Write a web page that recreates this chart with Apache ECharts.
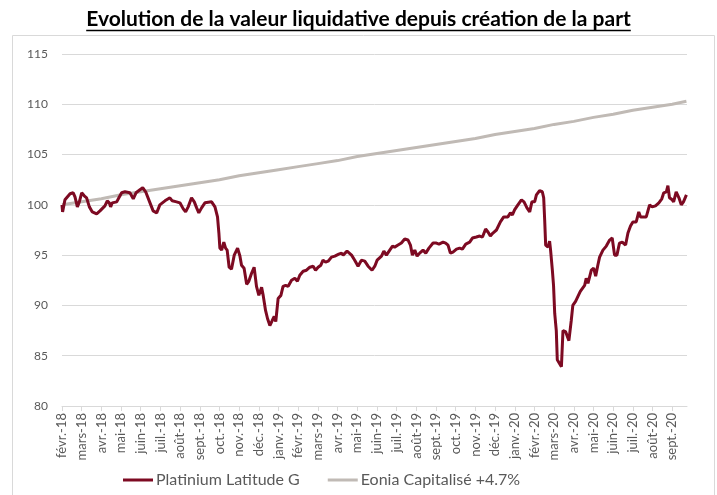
<!DOCTYPE html>
<html>
<head>
<meta charset="utf-8">
<script src="https://cdn.jsdelivr.net/npm/echarts@6/dist/echarts.min.js"></script>
<style>
html, body { margin: 0; padding: 0; background: #fff; }
#chart { width: 717px; height: 495px; }
</style>
</head>
<body>
<div id="chart"></div>
<script>
// month tick labels, one per month starting févr.-18
var monthLabels = [
  'févr.-18', 'mars-18', 'avr.-18', 'mai-18', 'juin-18', 'juil.-18', 'août-18', 'sept.-18',
  'oct.-18', 'nov.-18', 'déc.-18', 'janv.-19', 'févr.-19', 'mars-19', 'avr.-19', 'mai-19',
  'juin-19', 'juil.-19', 'août-19', 'sept.-19', 'oct.-19', 'nov.-19', 'déc.-19', 'janv.-20',
  'févr.-20', 'mars-20', 'avr.-20', 'mai-20', 'juin-20', 'juil.-20', 'août-20', 'sept.-20'
];
var yTicks = [80, 85, 90, 95, 100, 105, 110, 115];

// [months since 1 Feb 2018, value]
var platinium = [
  [0.00, 100.0], [0.03, 99.3], [0.15, 100.5], [0.41, 101.1], [0.57, 101.2], [0.66, 100.8],
  [0.78, 99.8], [0.88, 100.3], [1.00, 101.2], [1.13, 100.9], [1.25, 100.7], [1.39, 99.8],
  [1.54, 99.3], [1.76, 99.1], [1.93, 99.4], [2.18, 99.9], [2.30, 100.4], [2.40, 100.2],
  [2.47, 99.8], [2.55, 100.2], [2.78, 100.3], [2.89, 100.7], [3.03, 101.2], [3.20, 101.3],
  [3.45, 101.2], [3.62, 100.6], [3.76, 101.2], [3.96, 101.5], [4.10, 101.7], [4.25, 101.3],
  [4.47, 100.2], [4.63, 99.4], [4.81, 99.2], [4.97, 100.0], [5.23, 100.4], [5.48, 100.7],
  [5.60, 100.4], [5.82, 100.3], [5.99, 100.2], [6.16, 99.6], [6.28, 99.3], [6.41, 99.8],
  [6.58, 100.7], [6.72, 100.3], [6.84, 99.7], [6.95, 99.2], [7.09, 99.7], [7.26, 100.2],
  [7.35, 100.3], [7.60, 100.3], [7.77, 99.8], [7.90, 98.8], [7.97, 97.2], [8.02, 95.7],
  [8.11, 95.5], [8.22, 96.3], [8.31, 95.7], [8.39, 95.5], [8.49, 93.8], [8.61, 93.6],
  [8.75, 95.0], [8.92, 95.7], [9.04, 94.9], [9.12, 94.0], [9.25, 93.7], [9.38, 92.1],
  [9.49, 92.4], [9.63, 93.2], [9.76, 93.8], [9.88, 91.9], [10.00, 91.0], [10.14, 91.8],
  [10.22, 91.0], [10.34, 89.5], [10.44, 88.7], [10.56, 88.0], [10.68, 88.5], [10.78, 88.9],
  [10.86, 88.4], [10.98, 90.7], [11.12, 91.0], [11.23, 91.9], [11.36, 92.0], [11.49, 91.9],
  [11.66, 92.5], [11.83, 92.7], [11.96, 92.4], [12.08, 93.0], [12.25, 93.4], [12.42, 93.5],
  [12.59, 93.8], [12.76, 93.9], [12.88, 93.5], [13.01, 93.8], [13.15, 94.0], [13.26, 94.5],
  [13.39, 94.3], [13.52, 94.4], [13.69, 94.8], [13.86, 94.9], [14.06, 95.1], [14.20, 95.2],
  [14.28, 95.0], [14.48, 95.4], [14.71, 95.0], [14.87, 94.5], [15.04, 93.9], [15.21, 94.5],
  [15.38, 94.4], [15.55, 93.9], [15.75, 93.5], [15.89, 93.9], [16.01, 94.5], [16.23, 94.9],
  [16.35, 95.4], [16.48, 95.0], [16.65, 95.5], [16.79, 95.9], [16.90, 95.8], [17.07, 96.0],
  [17.24, 96.2], [17.41, 96.6], [17.58, 96.5], [17.70, 96.0], [17.80, 95.0], [17.92, 95.5],
  [18.04, 94.9], [18.17, 95.2], [18.34, 95.5], [18.48, 95.2], [18.64, 95.7], [18.85, 96.2],
  [19.02, 96.2], [19.15, 96.1], [19.36, 96.3], [19.49, 96.2], [19.61, 96.0], [19.73, 95.2],
  [19.86, 95.3], [20.04, 95.6], [20.20, 95.7], [20.34, 95.6], [20.51, 96.1], [20.71, 96.3],
  [20.85, 96.7], [21.05, 96.8], [21.22, 96.9], [21.36, 96.8], [21.52, 97.6], [21.64, 97.3],
  [21.76, 96.9], [21.89, 97.2], [22.07, 97.5], [22.27, 98.3], [22.44, 98.8], [22.65, 98.8],
  [22.78, 99.2], [22.88, 99.0], [22.99, 99.5], [23.16, 100.0], [23.34, 100.5], [23.47, 100.3],
  [23.62, 99.7], [23.76, 99.3], [23.87, 100.3], [24.01, 100.3], [24.10, 101.0], [24.26, 101.4],
  [24.40, 101.3], [24.47, 100.7], [24.52, 98.5], [24.57, 96.0], [24.69, 95.8], [24.77, 96.4],
  [24.82, 95.5], [24.91, 93.5], [24.97, 92.0], [25.03, 89.2], [25.11, 87.5], [25.16, 84.6],
  [25.28, 84.2], [25.37, 83.9], [25.45, 87.5], [25.58, 87.4], [25.65, 87.4], [25.75, 86.5],
  [25.87, 88.5], [25.95, 90.0], [26.09, 90.4], [26.21, 90.9], [26.33, 91.4], [26.43, 91.5],
  [26.55, 92.0], [26.63, 92.7], [26.72, 92.2], [26.89, 93.5], [27.01, 93.7], [27.11, 92.9],
  [27.22, 94.0], [27.31, 94.8], [27.48, 95.5], [27.65, 95.9], [27.82, 96.5], [27.95, 96.7],
  [28.07, 95.0], [28.19, 95.0], [28.32, 96.2], [28.46, 96.3], [28.63, 96.0], [28.75, 97.2],
  [28.88, 97.9], [29.00, 98.3], [29.17, 98.3], [29.30, 99.3], [29.39, 98.8], [29.54, 98.8],
  [29.68, 98.8], [29.85, 100.0], [29.98, 99.8], [30.15, 99.9], [30.32, 100.2], [30.47, 100.6],
  [30.57, 101.2], [30.70, 101.3], [30.78, 101.9], [30.86, 100.7], [31.00, 100.5], [31.07, 100.3],
  [31.20, 101.3], [31.34, 100.7], [31.46, 100.0], [31.57, 100.3], [31.72, 101.0]
];

var eonia = [
  [0, 100.0], [1, 100.3], [2, 100.6], [3, 101.0], [4, 101.3], [5, 101.6], [6, 101.9],
  [7, 102.2], [8, 102.5], [9, 102.9], [10, 103.2], [11, 103.5], [12, 103.8], [13, 104.1],
  [14, 104.4], [15, 104.8], [16, 105.1], [17, 105.4], [18, 105.7], [19, 106.0], [20, 106.3],
  [21, 106.6], [22, 107.0], [23, 107.3], [24, 107.6], [25, 108.0], [26, 108.3], [27, 108.7],
  [28, 109.0], [29, 109.4], [30, 109.7], [31, 110.0], [31.72, 110.3]
];

var titleText = 'Evolution de la valeur liquidative depuis création de la part';
var font = 'Lato';
var titleSize = 21;

var chart = echarts.init(document.getElementById('chart'));

// width of title, for the underline
var ctx = document.createElement('canvas').getContext('2d');
ctx.font = 'bold ' + titleSize + 'px ' + font;
var titleW = ctx.measureText(titleText).width;

var option = {
  animation: false,
  title: {
    text: titleText,
    left: 'center',
    top: 4,
    textStyle: { fontFamily: font, fontSize: titleSize, fontWeight: 'bold', color: '#000' }
  },
  graphic: [
    {
      type: 'line',
      shape: { x1: 358.5 - titleW / 2, y1: 30.5, x2: 358.5 + titleW / 2, y2: 30.5 },
      style: { stroke: '#000', lineWidth: 1.5 }
    },
    {
      type: 'rect',
      shape: { x: 12.5, y: 35.5, width: 702, height: 480 },
      style: { fill: 'none', stroke: '#d9d9d9', lineWidth: 1 },
      z: -1
    }
  ],
  legend: {
    top: 467,
    left: 118,
    itemWidth: 30,
    itemHeight: 3,
    itemGap: 28,
    icon: 'rect',
    textStyle: { fontFamily: font, fontSize: 16, color: '#595959', padding: [0, 0, 0, -2] },
    data: ['Platinium Latitude G', 'Eonia Capitalisé +4.7%']
  },
  grid: { left: 62, right: 30, top: 54, bottom: 89 },
  xAxis: {
    type: 'value',
    min: 0,
    max: 31.75,
    interval: 1,
    splitLine: { show: false },
    axisLine: { lineStyle: { color: '#d9d9d9' } },
    axisTick: {
      show: true,
      length: 5,
      customValues: monthLabels.map(function (l, i) { return i; }),
      lineStyle: { color: '#d9d9d9' }
    },
    axisLabel: {
      rotate: 90,
      margin: 7,
      fontFamily: font,
      fontSize: 13,
      color: '#595959',
      customValues: monthLabels.map(function (l, i) { return i; }),
      formatter: function (v) { return monthLabels[Math.round(v)] || ''; }
    }
  },
  yAxis: {
    type: 'value',
    min: yTicks[0],
    max: yTicks[yTicks.length - 1],
    interval: 5,
    axisLine: { show: false },
    axisTick: { show: false },
    splitLine: { lineStyle: { color: '#d9d9d9' } },
    axisLabel: { margin: 14, fontFamily: font, fontSize: 12, color: '#595959' }
  },
  series: [
    {
      name: 'Eonia Capitalisé +4.7%',
      type: 'line',
      data: eonia,
      showSymbol: false,
      color: '#c0bab5',
      lineStyle: { width: 3, color: '#c0bab5' },
      z: 2
    },
    {
      name: 'Platinium Latitude G',
      type: 'line',
      data: platinium,
      showSymbol: false,
      color: '#7d0a22',
      lineStyle: { width: 3, color: '#7d0a22' },
      z: 3
    }
  ]
};

chart.setOption(option);
</script>
</body>
</html>
